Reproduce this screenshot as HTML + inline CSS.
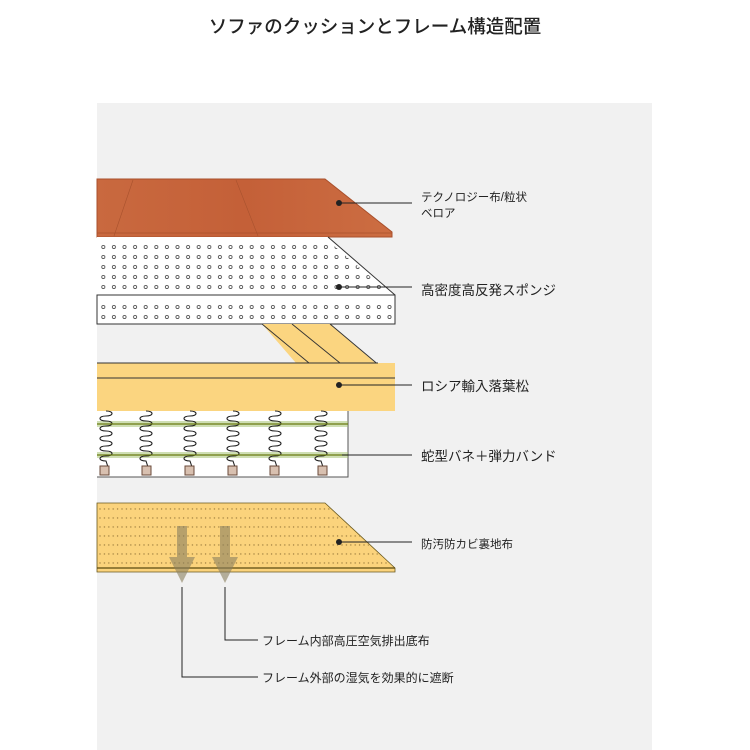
<!DOCTYPE html>
<html><head><meta charset="utf-8"><style>
body{margin:0;background:#fff;}
svg{display:block;font-family:"Liberation Sans","Noto Sans CJK JP",sans-serif;}
</style></head><body>
<svg width="750" height="750" viewBox="0 0 750 750" xmlns="http://www.w3.org/2000/svg">
<defs>
<pattern id="sp" x="98" y="242" width="10.6" height="10" patternUnits="userSpaceOnUse">
<circle cx="5.3" cy="5" r="1.6" fill="none" stroke="#555" stroke-width="0.9"/>
</pattern>
<pattern id="cp" x="98" y="506" width="4.4" height="9" patternUnits="userSpaceOnUse">
<circle cx="2" cy="3" r="0.7" fill="#a08040"/>
</pattern>
<linearGradient id="cu" x1="0" y1="0" x2="1" y2="0">
<stop offset="0" stop-color="#c9693f"/><stop offset="0.5" stop-color="#c46038"/><stop offset="1" stop-color="#cc6d42"/>
</linearGradient>
</defs>
<rect width="750" height="750" fill="#fff"/>
<rect x="97" y="103" width="555" height="647" fill="#f1f1f1"/>
<text x="375" y="33" text-anchor="middle" font-size="18.5" font-weight="500" fill="#222">ソファのクッションとフレーム構造配置</text>

<!-- cushion -->
<polygon points="97,179 325,179 392,232 392,237 97,237" fill="url(#cu)" stroke="#a9502c" stroke-width="1"/>
<line x1="133" y1="180" x2="114" y2="236" stroke="#a8522e" stroke-width="0.6"/>
<line x1="236" y1="180" x2="258" y2="236" stroke="#a8522e" stroke-width="0.6"/>
<line x1="97" y1="233" x2="392" y2="233" stroke="#a9502c" stroke-width="0.8"/>

<!-- sponge -->
<polygon points="97,237 328,237 395,295 97,295" fill="#fff"/>
<polygon points="97,239 326,239 392,295 97,295" fill="url(#sp)"/>
<line x1="328" y1="237" x2="395" y2="295" stroke="#333" stroke-width="1"/>
<rect x="97" y="295" width="298" height="29" fill="#fff" stroke="#333" stroke-width="1"/>
<rect x="98" y="300" width="296" height="22" fill="url(#sp)"/>

<!-- frame rails -->
<polygon points="262,324 330,324 393,378 309,378" fill="#fbd580"/>
<line x1="262" y1="324" x2="309" y2="363" stroke="#333" stroke-width="0.9"/>
<line x1="292" y1="324" x2="340" y2="363" stroke="#333" stroke-width="0.9"/>
<line x1="330" y1="324" x2="393" y2="377" stroke="#333" stroke-width="0.9"/>
<rect x="97" y="363" width="298" height="48" fill="#fbd580"/>
<line x1="97" y1="363" x2="378" y2="363" stroke="#333" stroke-width="0.9"/>
<line x1="97" y1="378" x2="395" y2="378" stroke="#333" stroke-width="0.9"/>

<!-- springs -->
<rect x="97" y="411" width="251" height="66" fill="#fff"/>
<polyline points="97,477 348,477 348,411" fill="none" stroke="#555" stroke-width="1"/>
<rect x="97" y="421" width="251" height="6" fill="#9fbf6a" opacity="0.5"/>
<rect x="97" y="452" width="251" height="6" fill="#9fbf6a" opacity="0.5"/>
<g fill="none" stroke="#222" stroke-width="1.1">
<path id="s" d="M106,411 c8,0 8,5 0,5 c-8,0 -8,5 0,5 c8,0 8,5 0,5 c-8,0 -8,5 0,5 c8,0 8,5 0,5 c-8,0 -8,5 0,5 c8,0 8,5 0,5 c-8,0 -8,5 0,5 c8,0 8,5 0,5 c-8,0 -8,5 0,5 l2,6"/>
<use href="#s" x="40"/><use href="#s" x="84"/><use href="#s" x="127"/><use href="#s" x="169"/><use href="#s" x="215"/>
</g>
<line x1="97" y1="424" x2="348" y2="424" stroke="#6a7a10" stroke-width="1.2"/>
<line x1="97" y1="455" x2="348" y2="455" stroke="#6a7a10" stroke-width="1.2"/>
<g fill="#d8c0b0" stroke="#6a4a3a" stroke-width="1">
<rect x="100" y="466" width="9" height="9"/><rect x="142" y="466" width="9" height="9"/><rect x="185" y="466" width="9" height="9"/><rect x="228" y="466" width="9" height="9"/><rect x="270" y="466" width="9" height="9"/><rect x="318" y="466" width="9" height="9"/>
</g>

<!-- bottom cloth -->
<polygon points="97,503 325,503 395,568 395,572 97,572" fill="#fbd37c" stroke="#6a5a20" stroke-width="0.8"/>
<polygon points="97,503 325,503 390,565 97,565" fill="url(#cp)"/>
<line x1="97" y1="568" x2="395" y2="568" stroke="#5a4a10" stroke-width="1.2"/>
<g fill="#8a8060" opacity="0.6">
<rect x="177" y="526" width="10" height="35"/><polygon points="169,557 195,557 182,583"/>
<rect x="220" y="526" width="10" height="35"/><polygon points="212,557 238,557 225,583"/>
</g>

<!-- connectors -->
<g stroke="#222" stroke-width="1" fill="none">
<line x1="339" y1="203" x2="412" y2="203"/>
<line x1="339" y1="287" x2="412" y2="287"/>
<line x1="339" y1="385" x2="412" y2="385"/>
<line x1="342" y1="455" x2="412" y2="455"/>
<line x1="339" y1="542" x2="412" y2="542"/>
<polyline points="225,587 225,640 258,640"/>
<polyline points="182,587 182,677 258,677"/>
</g>
<g fill="#222">
<circle cx="339" cy="203" r="3"/><circle cx="339" cy="287" r="3"/><circle cx="339" cy="385" r="3"/><circle cx="339" cy="542" r="3"/>
</g>
<g fill="#222">
<text x="421" y="201" font-size="11.5">テクノロジー布/粒状</text>
<text x="421" y="217" font-size="11.5">ベロア</text>
<text x="421" y="295" font-size="13.5">高密度高反発スポンジ</text>
<text x="421" y="391" font-size="13.5">ロシア輸入落葉松</text>
<text x="421" y="461" font-size="13.5">蛇型バネ＋弾力バンド</text>
<text x="421" y="548" font-size="11.5">防汚防カビ裏地布</text>
<text x="262" y="645" font-size="12">フレーム内部高圧空気排出底布</text>
<text x="262" y="682" font-size="12">フレーム外部の湿気を効果的に遮断</text>
</g>
</svg>
</body></html>
